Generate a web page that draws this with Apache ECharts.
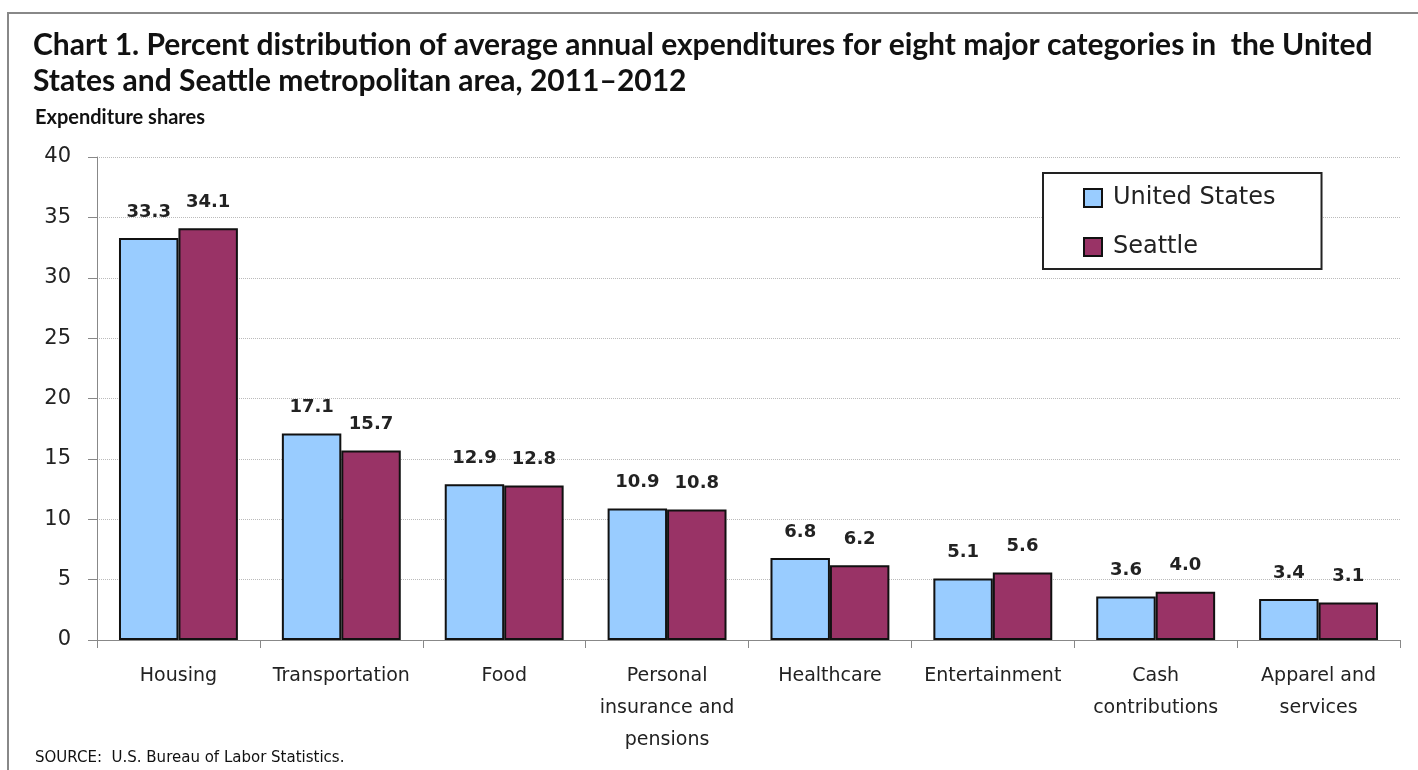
<!DOCTYPE html>
<html><head><meta charset="utf-8">
<script src="https://cdn.jsdelivr.net/npm/echarts@6/dist/echarts.min.js"></script>
<style>html,body{margin:0;padding:0;background:#fff}#c{width:1418px;height:770px}</style>
</head><body><div id="c"></div>
<script>
var categories = ['Housing','Transportation','Food','Personal\ninsurance and\npensions','Healthcare','Entertainment','Cash\ncontributions','Apparel and\nservices'];
var usValues = [33.3,17.1,12.9,10.9,6.8,5.1,3.6,3.4];
var seattleValues = [34.1,15.7,12.8,10.8,6.2,5.6,4.0,3.1];
var seriesNames = ['United States','Seattle'];
var titleLines = ['Chart 1. Percent distribution of average annual expenditures for eight major categories in  the United','States and Seattle metropolitan area, 2011\u20132012'];
var yAxisName = 'Expenditure shares';
var sourceText = 'SOURCE:  U.S. Bureau of Labor Statistics.';

var chart = echarts.init(document.getElementById('c'));
var labelStyle = {show:true, position:'top', distance:17, fontFamily:'DejaVu Sans', fontWeight:'bold', fontSize:18, color:'#222', formatter:function(p){return p.value.toFixed(1);}};
chart.setOption({
  animation:false,
  backgroundColor:'#fff',
  graphic:[
    {type:'rect', shape:{x:8, y:13, width:1420, height:780}, style:{fill:'none', stroke:'#888', lineWidth:2}, silent:true},
    {type:'text', left:33, top:27, style:{text:titleLines.join('\n'), font:'bold 30px Lato', lineHeight:36, fill:'#111'}},
    {type:'text', left:35, top:108, style:{text:yAxisName, font:'bold 20px Lato', fill:'#111'}},
    {type:'text', left:35, top:751, style:{text:sourceText, font:'15px DejaVu Sans', fill:'#111'}}
  ],
  legend:{
    orient:'vertical', left:1043, top:173,
    padding:[13,46,10,40], itemGap:25, itemWidth:18, itemHeight:18, icon:'rect',
    borderColor:'#222', borderWidth:2, backgroundColor:'#fff',
    itemStyle:{borderColor:'#111', borderWidth:2},
    textStyle:{fontFamily:'DejaVu Sans', fontSize:24, color:'#222', padding:[0,0,0,6]},
    data:seriesNames
  },
  grid:{left:97, right:18, top:157, bottom:130, containLabel:false},
  xAxis:{
    type:'category', data:categories,
    axisLine:{lineStyle:{color:'#888', width:1}},
    axisTick:{show:true, length:8, lineStyle:{color:'#888'}},
    axisLabel:{interval:0, fontFamily:'DejaVu Sans', fontSize:19, color:'#222', lineHeight:32, margin:20}
  },
  yAxis:{
    type:'value', min:0, max:40, interval:5,
    axisLine:{show:true, lineStyle:{color:'#888'}},
    axisTick:{show:true, length:9, lineStyle:{color:'#888'}},
    axisLabel:{fontFamily:'DejaVu Sans', fontSize:21, color:'#222', margin:26},
    splitLine:{lineStyle:{color:'#bbb', type:'dotted', width:1}}
  },
  series:[
    {name:seriesNames[0], type:'bar', data:usValues, barGap:'0%', barCategoryGap:'27%',
     itemStyle:{color:'#99CCFF', borderColor:'#111', borderWidth:2}, label:labelStyle},
    {name:seriesNames[1], type:'bar', data:seattleValues,
     itemStyle:{color:'#993366', borderColor:'#111', borderWidth:2}, label:labelStyle}
  ]
});
</script></body></html>
